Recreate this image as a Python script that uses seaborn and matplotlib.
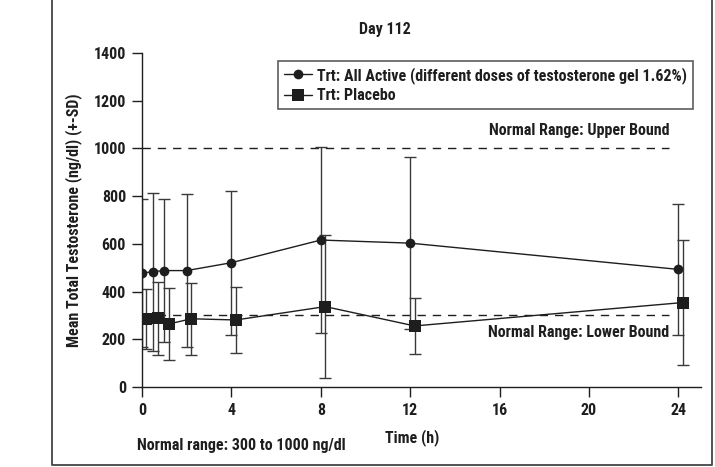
import matplotlib
matplotlib.use("Agg")
import matplotlib.pyplot as plt
from matplotlib.lines import Line2D
import pandas as pd
import seaborn as sns

# values
time_active = [0, 0.5, 1, 2, 4, 8, 12, 24]
mean_active = [477, 484, 488, 488, 521, 616, 603, 493]
sd_active = [310, 331, 299, 320, 302, 391, 361, 274]

time_placebo = [0.2, 0.7, 1.2, 2.2, 4.2, 8.2, 12.2, 24.2]
mean_placebo = [284, 288, 264, 286, 281, 337, 256, 354]
sd_placebo = [126, 152, 150, 152, 140, 300, 117, 262]

label_active = "Trt: All Active (different doses of testosterone gel 1.62%)"
label_placebo = "Trt: Placebo"
upper_bound = 1000
lower_bound = 300
x_ticks = [0, 4, 8, 12, 16, 20, 24]
y_ticks = [0, 200, 400, 600, 800, 1000, 1200, 1400]

sns.set_style("ticks")
plt.rcParams["font.family"] = ["Roboto Condensed", "DejaVu Sans"]
plt.rcParams["font.weight"] = "bold"
plt.rcParams["axes.labelweight"] = "bold"

df = pd.DataFrame({
    "time": time_active + time_placebo,
    "mean": mean_active + mean_placebo,
    "group": [label_active] * len(time_active) + [label_placebo] * len(time_placebo),
})

fs = 11.5
ink = "#1e1e1e"

fig = plt.figure(figsize=(7.15, 4.67), dpi=100)
ax = fig.add_axes([0.1986, 0.1713, 0.7814, 0.7152])

# error bars (mean +- SD)
ax.errorbar(time_active, mean_active, yerr=sd_active, fmt="none", ecolor="#3a3a3a",
            elinewidth=1.0, capsize=4, capthick=1.0, zorder=2)
ax.errorbar(time_placebo, mean_placebo, yerr=sd_placebo, fmt="none", ecolor="#3a3a3a",
            elinewidth=1.0, capsize=4, capthick=1.0, zorder=2)

sns.lineplot(data=df, x="time", y="mean", hue="group", style="group",
             markers={label_active: "o", label_placebo: "s"}, dashes=False,
             palette={label_active: ink, label_placebo: ink},
             linewidth=1.0, markeredgewidth=0, ax=ax, zorder=3, sort=False)
for ln in ax.lines:
    if ln.get_marker() == "o":
        ln.set_markersize(7)
    elif ln.get_marker() == "s":
        ln.set_markersize(8)

# normal range lines
ax.hlines([upper_bound, lower_bound], 0, 23.6, colors=ink, linestyles=(0, (6, 5)),
          linewidth=1.0, zorder=1)
ax.text(23.6, 1077, "Normal Range: Upper Bound", ha="right", va="center",
        fontsize=fs, color=ink)
ax.text(23.6, 230, "Normal Range: Lower Bound", ha="right", va="center",
        fontsize=fs, color=ink)

ax.set_xlim(0, 25)
ax.set_ylim(0, 1400)
ax.set_xticks(x_ticks)
ax.set_yticks(y_ticks)
ax.tick_params(direction="out", length=7.5, width=1.0, colors=ink, labelsize=fs, pad=4)
sns.despine(ax=ax)
for s in ("left", "bottom"):
    ax.spines[s].set_linewidth(1.0)
    ax.spines[s].set_color(ink)

ax.set_xlabel("Time (h)", fontsize=fs, fontweight="bold", color=ink)
ax.xaxis.set_label_coords(0.484, -0.125)
ax.set_ylabel("Mean Total Testosterone (ng/dl) (+-SD)", fontsize=fs,
              fontweight="bold", color=ink)
ax.yaxis.set_label_coords(-0.108, 0.5)

handles, labels = ax.get_legend_handles_labels()
leg = ax.legend(handles, labels, loc="upper right", bbox_to_anchor=(0.986, 0.976),
                borderaxespad=0, frameon=True, fancybox=False, edgecolor="#333333",
                fontsize=fs, handlelength=1.8, handletextpad=0.3, borderpad=0.35,
                labelspacing=0.3)
leg.get_frame().set_linewidth(1.2)
for t in leg.get_texts():
    t.set_color(ink)

fig.text(0.538, 0.936, "Day 112", ha="center", va="center", fontsize=fs, color=ink)
fig.text(0.192, 0.047, "Normal range: 300 to 1000 ng/dl", ha="left", va="center",
         fontsize=fs, color=ink)

# outer frame (open at the top)
fl, fr, fb = 52 / 715, 712 / 715, 2 / 467
fig.add_artist(Line2D([fl, fl, fr, fr], [1.05, fb, fb, 1.05], transform=fig.transFigure,
                      color="#444444", linewidth=1.3))

fig.savefig("out.png", dpi=100)
